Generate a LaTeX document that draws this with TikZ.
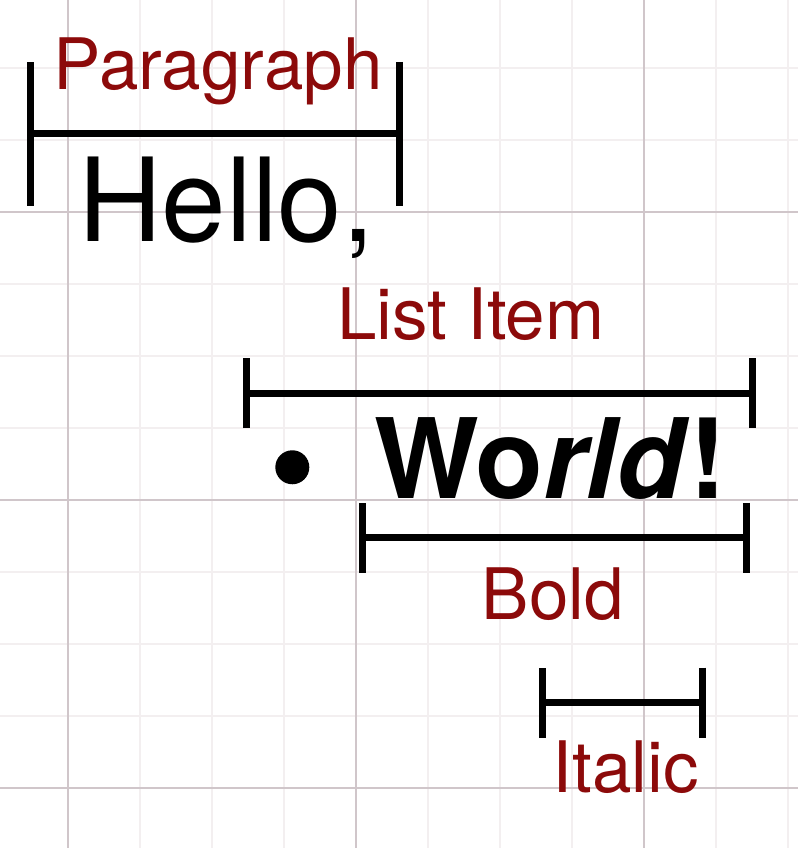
\documentclass[tikz,border=0pt]{standalone}
\usepackage{fontspec}
\setmainfont{TeX Gyre Heros}
\usetikzlibrary{arrows.meta}
\definecolor{labelred}{RGB}{140,10,10}
\definecolor{minorline}{RGB}{243,239,240}
\definecolor{majorline}{RGB}{208,198,202}
\tikzset{
  minor grid/.style={draw=minorline, line width=0.6pt},
  major grid/.style={draw=majorline, line width=0.6pt},
  span label/.style={text=labelred, inner sep=0pt, anchor=base,
    font=\fontsize{35.5}{40}\selectfont},
  big text/.style={inner sep=0pt, anchor=base west,
    font=\fontsize{55.5}{60}\selectfont},
  wide span/.style={line width=3.5pt, {Bar[width=72pt]}-{Bar[width=72pt]}},
  narrow span/.style={line width=3.5pt, {Bar[width=35pt]}-{Bar[width=35pt]}},
}

\begin{document}
\begin{tikzpicture}[x=36pt, y=36pt]
    \useasboundingbox (0,0) rectangle (11.083,-11.778);

    % background grid
    \begin{scope}[shift={(0.944,-2.944)}]
        \draw [style=minor grid, step=1] (-0.944,2.944) grid (10.139,-8.834);
        \draw [style=major grid, step=4] (-0.944,2.944) grid (10.139,-8.834);
    \end{scope}

    % texts
    \node [style=big text, font=\fontsize{58}{62}\selectfont] (hello) at (1.08, -3.35) {Hello,};
    \node [style=big text] (world) at (5.19, -6.92) {\textbf{Wo\textit{rld}!}};
    \node [fill=black, shape=circle, inner sep=0pt, minimum size=17pt] (bullet) at (4.06, -6.49) {};

    \node [style=span label] (para-lbl) at (3.03, -1.24) {Paragraph};
    \node [style=span label] (list-lbl) at (6.54, -4.72) {List Item};
    \node [style=span label] (bold-lbl) at (7.68, -8.61) {Bold};
    \node [style=span label] (italic-lbl) at (8.69, -11.01) {Italic};

    % span markers
    \coordinate (para-l) at (0.38, -1.86);
    \coordinate (para-r) at (5.60, -1.86);
    \coordinate (list-l) at (3.38, -5.46);
    \coordinate (list-r) at (10.50, -5.46);
    \coordinate (bold-l) at (4.98, -7.47);
    \coordinate (bold-r) at (10.41, -7.47);
    \coordinate (italic-l) at (7.48, -9.76);
    \coordinate (italic-r) at (9.81, -9.76);

    \draw [style=wide span] (para-l) to (para-r);
    \draw [style=narrow span] (list-l) to (list-r);
    \draw [style=narrow span] (bold-l) to (bold-r);
    \draw [style=narrow span] (italic-l) to (italic-r);
\end{tikzpicture}
\end{document}
